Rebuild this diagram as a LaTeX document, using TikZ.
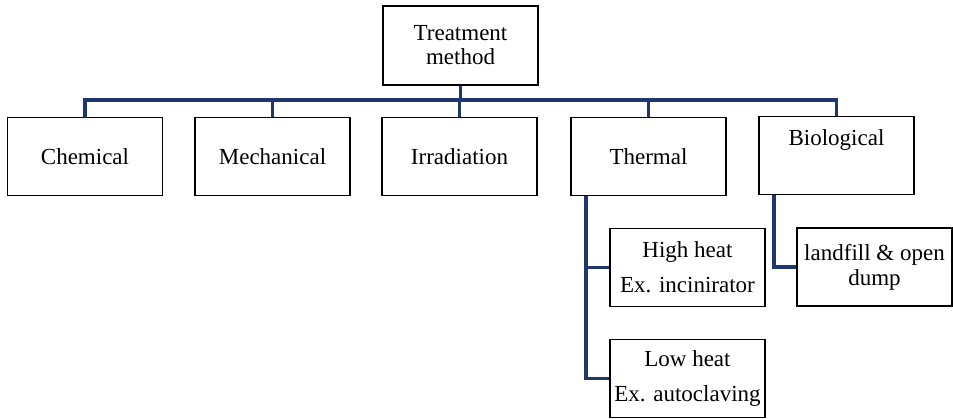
\documentclass[tikz,border=0pt]{standalone}
\usepackage{fontspec}
\setmainfont{Liberation Serif}
\usetikzlibrary{calc}
\definecolor{busblue}{RGB}{30,55,110}
\begin{document}
\begin{tikzpicture}[x=1pt,y=-1pt,
  box/.style={draw=black, line width=1.8pt, minimum width=155pt, minimum height=78pt,
    inner sep=0pt, align=center, font=\fontsize{23}{24}\selectfont},
  wide/.style={font=\fontsize{23}{35}\selectfont},
  bus/.style={draw=busblue, line width=3.5pt}]
\useasboundingbox (0,0) rectangle (953,419);

% boxes
\node[box, minimum height=79pt] (root) at (460.5,45.5) {Treatment\\method};
\node[box] (chem)  at (85,156.5)    {Chemical};
\node[box] (mech)  at (272.5,156.5) {Mechanical};
\node[box] (irr)   at (459.5,156.5) {Irradiation};
\node[box] (therm) at (648.5,156.5) {Thermal};
\node[box, wide] (bio) at (836.5,155.5) {Biological\\\mbox{}};
\node[box, wide] (high) at (687.5,267.5) {High heat\\Ex. incinirator};
\node[box, wide] (low)  at (687.5,378.5) {Low heat\\Ex. autoclaving};
\node[box, font=\fontsize{23}{25}\selectfont] (land) at (874.5,267) {landfill \& open\\dump};

% main bus
\coordinate (busy) at (0,100);
\draw[bus] (root.south) -- (root.south |- busy);
\draw[bus] (chem.north) |- (busy -| bio.north) -- (bio.north);
\foreach \n in {mech,irr,therm}
  \draw[bus] (\n.north) -- (\n.north |- busy);

% thermal sub-branches
\coordinate (tb) at ($(therm.south west)+(16,0)$);
\draw[bus] (tb) |- (high.west);
\draw[bus] (tb) |- (low.west);

% biological sub-branch
\coordinate (bb) at ($(bio.south west)+(16,0)$);
\draw[bus] (bb) |- (land.west);
\end{tikzpicture}
\end{document}
